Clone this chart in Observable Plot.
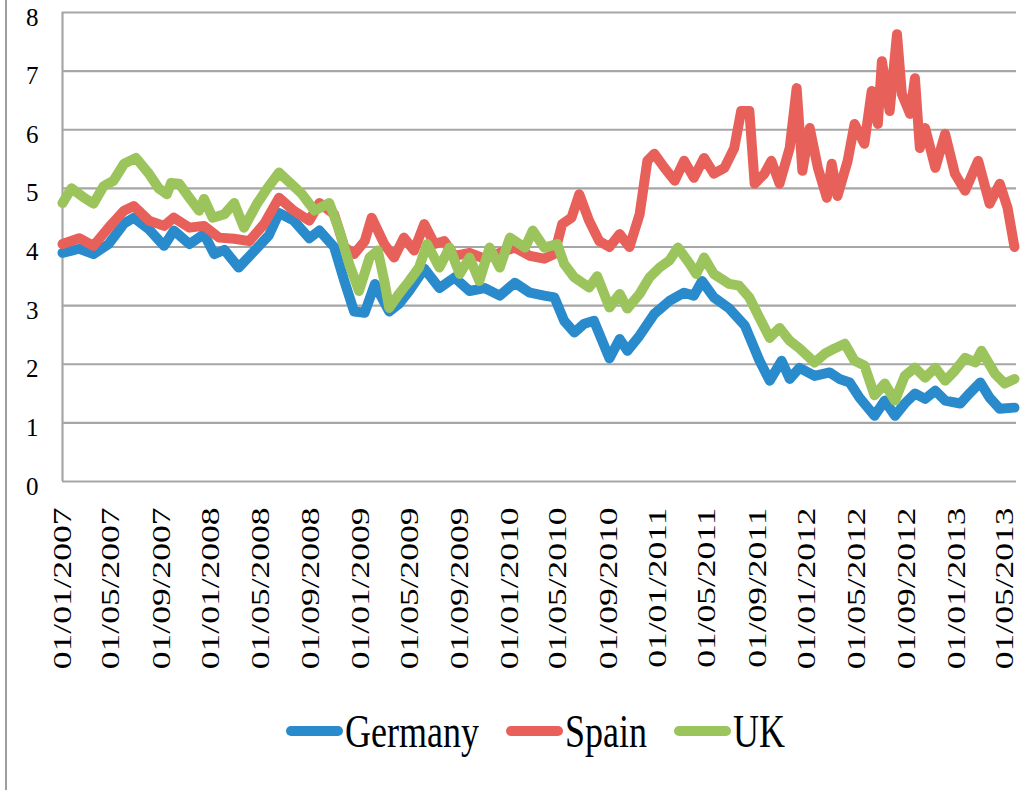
<!DOCTYPE html>
<html>
<head>
<meta charset="utf-8">
<script src="https://cdn.jsdelivr.net/npm/d3@7"></script>
<script src="https://cdn.jsdelivr.net/npm/@observablehq/plot@0.6"></script>
<style>
  body { margin: 0; background: #fff; }
  #wrap { position: relative; width: 1035px; height: 790px; overflow: hidden; font-family: "Liberation Serif", serif; background: #fff; }
  #chart { position: absolute; left: 0; top: 0; }
  #chart svg, #chart svg text { font-family: "Liberation Serif", serif !important; }
  #frame { position: absolute; left: 5px; top: 0; width: 2px; height: 790px; background: #9e9e9e; }
  #legend { position: absolute; left: 286px; top: 706px; display: flex; align-items: center; height: 50px; }
  .item { display: flex; align-items: center; margin-right: 27px; }
  .sw { width: 57px; height: 10px; border-radius: 5px; }
  .lab { font-size: 36px; line-height: 40px; transform: scaleY(1.3); margin-left: 2px; color: #000; }
</style>
</head>
<body>
<div id="wrap">
  <div id="chart"></div>
  <div id="frame"></div>
  <div id="legend"></div>
</div>
<script>
// ---- Data ----
const seriesNames = ["Germany", "Spain", "UK"];
const seriesColors = ["#2a8bcc", "#e8605a", "#9cc45c"];

const germanyDates = ["2007-01-01","2007-02-11","2007-03-18","2007-04-24","2007-06-01","2007-06-25","2007-08-01","2007-09-07","2007-10-01","2007-11-08","2007-12-14","2008-01-08","2008-02-02","2008-03-08","2008-04-15","2008-05-21","2008-06-15","2008-07-21","2008-08-28","2008-09-22","2008-10-28","2008-11-22","2008-12-16","2009-01-11","2009-02-05","2009-02-17","2009-03-12","2009-04-05","2009-04-30","2009-06-06","2009-07-13","2009-08-19","2009-09-25","2009-11-01","2009-12-08","2010-01-14","2010-02-20","2010-03-27","2010-04-21","2010-05-15","2010-06-09","2010-07-03","2010-07-27","2010-09-03","2010-09-28","2010-10-17","2010-11-16","2010-12-22","2011-01-28","2011-03-05","2011-03-29","2011-04-18","2011-05-17","2011-06-24","2011-08-01","2011-09-06","2011-10-01","2011-10-30","2011-11-19","2011-12-13","2012-01-19","2012-02-25","2012-03-20","2012-04-14","2012-05-08","2012-06-14","2012-07-09","2012-08-03","2012-08-27","2012-09-21","2012-10-16","2012-11-10","2012-12-04","2013-01-10","2013-02-04","2013-02-28","2013-03-23","2013-04-17","2013-05-23"];
const germanyValues = [3.9,3.97,3.88,4.05,4.4,4.5,4.3,4.02,4.28,4.05,4.22,3.88,3.95,3.65,3.93,4.2,4.58,4.45,4.15,4.28,4.0,3.42,2.9,2.88,3.37,3.2,2.9,3.03,3.25,3.63,3.3,3.48,3.25,3.3,3.17,3.39,3.22,3.17,3.14,2.74,2.54,2.69,2.74,2.1,2.43,2.23,2.49,2.86,3.08,3.22,3.17,3.42,3.14,2.95,2.66,2.06,1.72,2.06,1.75,1.94,1.8,1.86,1.75,1.69,1.43,1.12,1.38,1.12,1.33,1.5,1.41,1.55,1.38,1.33,1.52,1.69,1.43,1.24,1.26];

const spainDates = ["2007-01-01","2007-02-11","2007-03-18","2007-04-24","2007-06-01","2007-06-25","2007-08-01","2007-09-07","2007-10-01","2007-11-08","2007-12-14","2008-01-20","2008-02-26","2008-04-03","2008-05-09","2008-06-15","2008-07-21","2008-08-28","2008-09-22","2008-10-28","2008-11-22","2008-12-16","2009-01-11","2009-01-28","2009-02-28","2009-03-24","2009-04-17","2009-05-12","2009-06-06","2009-07-01","2009-07-25","2009-08-19","2009-09-25","2009-11-01","2009-12-08","2010-01-14","2010-02-20","2010-03-27","2010-04-21","2010-05-10","2010-06-02","2010-06-21","2010-07-15","2010-08-09","2010-09-03","2010-09-28","2010-10-22","2010-11-16","2010-12-05","2010-12-22","2011-01-16","2011-02-10","2011-03-05","2011-03-29","2011-04-23","2011-05-17","2011-06-12","2011-07-06","2011-07-23","2011-08-12","2011-08-25","2011-09-18","2011-10-05","2011-10-25","2011-11-19","2011-12-06","2011-12-20","2012-01-07","2012-01-27","2012-02-18","2012-03-01","2012-03-15","2012-04-09","2012-04-26","2012-05-20","2012-06-07","2012-06-22","2012-07-02","2012-07-21","2012-08-08","2012-08-20","2012-09-09","2012-09-21","2012-10-03","2012-10-16","2012-11-10","2012-12-04","2012-12-28","2013-01-22","2013-02-23","2013-03-23","2013-04-17","2013-05-06","2013-05-23"];
const spainValues = [4.05,4.15,4.02,4.33,4.62,4.7,4.45,4.36,4.5,4.33,4.36,4.16,4.14,4.1,4.39,4.84,4.62,4.45,4.75,4.56,4.0,3.88,4.1,4.5,4.05,3.82,4.16,3.94,4.39,4.05,4.1,3.85,3.9,3.8,3.9,3.99,3.85,3.8,3.88,4.39,4.5,4.9,4.45,4.1,4.0,4.22,4.0,4.56,5.47,5.59,5.35,5.13,5.47,5.18,5.52,5.25,5.35,5.69,6.32,6.32,5.08,5.25,5.47,5.08,5.69,6.71,5.3,6.03,5.35,4.84,5.42,4.87,5.47,6.1,5.76,6.66,6.1,7.17,6.32,7.63,6.61,6.27,6.88,5.69,6.03,5.35,5.93,5.25,4.96,5.47,4.74,5.08,4.67,4.0];

const ukDates = ["2007-01-01","2007-01-23","2007-02-23","2007-03-18","2007-04-12","2007-05-06","2007-06-01","2007-06-30","2007-08-01","2007-08-25","2007-09-14","2007-09-24","2007-10-14","2007-11-08","2007-12-02","2007-12-14","2008-01-04","2008-02-02","2008-02-26","2008-03-21","2008-04-22","2008-05-16","2008-06-15","2008-07-14","2008-08-08","2008-09-10","2008-10-16","2008-11-10","2008-12-04","2008-12-28","2009-01-23","2009-02-12","2009-02-28","2009-03-12","2009-04-05","2009-04-30","2009-05-24","2009-06-13","2009-07-13","2009-08-07","2009-09-01","2009-09-25","2009-10-19","2009-11-13","2009-12-08","2010-01-02","2010-02-08","2010-02-27","2010-03-27","2010-04-28","2010-05-15","2010-06-09","2010-07-15","2010-08-04","2010-09-03","2010-09-28","2010-10-17","2010-11-16","2010-12-10","2011-01-04","2011-01-28","2011-02-18","2011-03-17","2011-04-04","2011-04-23","2011-05-17","2011-06-24","2011-07-18","2011-08-12","2011-09-06","2011-10-01","2011-10-25","2011-11-19","2011-12-13","2012-01-19","2012-02-13","2012-03-08","2012-04-02","2012-04-26","2012-05-20","2012-06-14","2012-07-09","2012-08-03","2012-08-27","2012-09-21","2012-10-16","2012-11-10","2012-12-04","2012-12-28","2013-01-22","2013-02-16","2013-03-03","2013-04-05","2013-04-29","2013-05-23"];
const ukValues = [4.75,5.0,4.84,4.74,5.04,5.13,5.42,5.52,5.25,5.0,4.9,5.09,5.08,4.84,4.62,4.82,4.5,4.56,4.75,4.33,4.74,4.99,5.27,5.08,4.92,4.62,4.75,4.28,3.71,3.25,3.82,3.94,3.42,2.96,3.2,3.42,3.65,4.05,3.65,3.99,3.54,3.82,3.42,3.99,3.65,4.16,3.99,4.28,3.99,4.05,3.71,3.48,3.31,3.5,2.97,3.2,2.95,3.2,3.48,3.65,3.77,3.99,3.73,3.54,3.82,3.54,3.37,3.34,3.14,2.79,2.45,2.62,2.4,2.27,2.03,2.18,2.27,2.35,2.06,1.98,1.47,1.67,1.38,1.8,1.94,1.77,1.94,1.72,1.89,2.11,2.03,2.23,1.84,1.67,1.75];

const xTickLabels = ["2007-01-01","2007-05-01","2007-09-01","2008-01-01","2008-05-01","2008-09-01","2009-01-01","2009-05-01","2009-09-01","2010-01-01","2010-05-01","2010-09-01","2011-01-01","2011-05-01","2011-09-01","2012-01-01","2012-05-01","2012-09-01","2013-01-01","2013-05-01"];
const yTicks = [0, 1, 2, 3, 4, 5, 6, 7, 8];
const xDomain = ["2007-01-01", "2013-05-28"];

// ---- Build tables ----
const parse = d3.utcParse("%Y-%m-%d");
function rows(name, dates, values) {
  return dates.map((d, i) => ({series: name, date: parse(d), value: values[i]}));
}
const tables = [
  rows("Germany", germanyDates, germanyValues),
  rows("Spain", spainDates, spainValues),
  rows("UK", ukDates, ukValues)
];
const gridColor = "#a6a6a6";

const chart = Plot.plot({
  width: 1035,
  height: 700,
  marginTop: 12,
  marginBottom: 219,
  marginLeft: 62,
  marginRight: 19,
  style: {fontFamily: "Liberation Serif", fontSize: "25px", color: "#000", background: "transparent"},
  x: {type: "utc", domain: xDomain.map(parse)},
  y: {domain: [0, 8]},
  color: {domain: seriesNames, range: seriesColors},
  marks: [
    Plot.ruleY(yTicks, {stroke: gridColor, strokeWidth: 2.2}),
    Plot.ruleX([parse(xDomain[0])], {stroke: gridColor, strokeWidth: 2.2}),
    ...tables.map(t => Plot.line(t, {
      x: "date", y: "value", stroke: "series",
      strokeWidth: 10, strokeLinecap: "round", strokeLinejoin: "round"
    })),
    Plot.axisY({ticks: yTicks, tickSize: 0, tickPadding: 24, dy: 5, label: null}),
    Plot.axisX({
      ticks: xTickLabels.map(parse),
      tickFormat: d3.utcFormat("%d/%m/%Y"),
      tickRotate: -90, tickSize: 0, tickPadding: 26, label: null
    })
  ]
});
document.getElementById("chart").appendChild(chart);

// stretch the rotated date labels along their length, as in the reference
chart.querySelectorAll('g[aria-label="x-axis tick label"] text').forEach(t => {
  const tr = t.getAttribute("transform") || "";
  t.setAttribute("transform", tr + " scale(1.42,1)");
});

// ---- Legend ----
const legend = document.getElementById("legend");
seriesNames.forEach((name, i) => {
  const item = document.createElement("div");
  item.className = "item";
  const sw = document.createElement("div");
  sw.className = "sw";
  sw.style.background = seriesColors[i];
  const lab = document.createElement("span");
  lab.className = "lab";
  lab.textContent = name;
  item.appendChild(sw);
  item.appendChild(lab);
  legend.appendChild(item);
});
</script>
</body>
</html>
